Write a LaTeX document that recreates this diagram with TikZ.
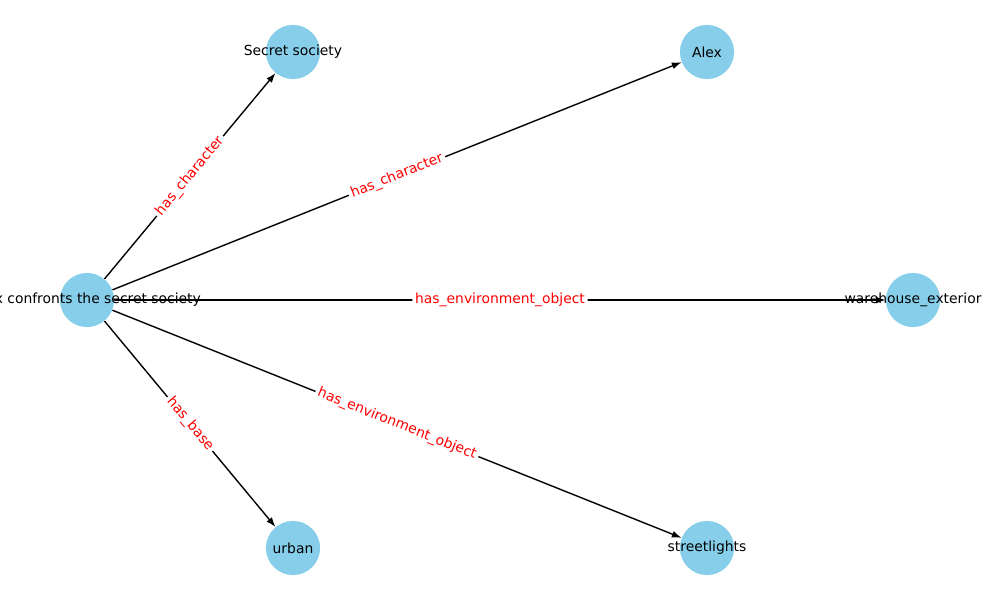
\documentclass[tikz,border=0pt]{standalone}
\usepackage{fontspec}
\setmainfont{DejaVu Sans}
\usepackage{xcolor}
\usetikzlibrary{arrows.meta}
\pgfdeclarelayer{background}
\pgfsetlayers{background,main}
\definecolor{skyblue}{HTML}{87CEEB}
\tikzstyle{arrow} = [line width=1pt,-{Latex[length=7pt,width=5pt]}]

\begin{document}
\begin{tikzpicture}[
    x=0.72pt, y=-0.72pt,
    ent/.style={circle,fill=skyblue,minimum size=39pt,inner sep=0pt,
      label={[font=\fontsize{10}{12}\selectfont]center:#1}},
    elabel/.style={midway,sloped,fill=white,rounded corners=2pt,inner sep=2pt,text=red,font=\fontsize{10}{12}\selectfont},
  ]
  \useasboundingbox (0,0) rectangle (1000,600);
  \clip (0,0) rectangle (1000,600);
  \node[ent={Alex confronts the secret society}] (act) at (87,300) {};
  \node[ent={Secret society}] (society) at (293,52) {};
  \node[ent={Alex}] (alex) at (707,52) {};
  \node[ent={warehouse\_exterior}] (warehouse) at (913,300) {};
  \node[ent={urban}] (urban) at (293,548) {};
  \node[ent={streetlights}] (lights) at (707,548) {};
  \begin{pgfonlayer}{background}
    \draw[arrow] (act) -- (society) node[elabel] {has\_character};
    \draw[arrow] (act) -- (alex) node[elabel] {has\_character};
    \draw[arrow] (act) -- (warehouse) node[elabel] {has\_environment\_object};
    \draw[arrow] (act) -- (urban) node[elabel] {has\_base};
    \draw[arrow] (act) -- (lights) node[elabel] {has\_environment\_object};
  \end{pgfonlayer}
\end{tikzpicture}
\end{document}
